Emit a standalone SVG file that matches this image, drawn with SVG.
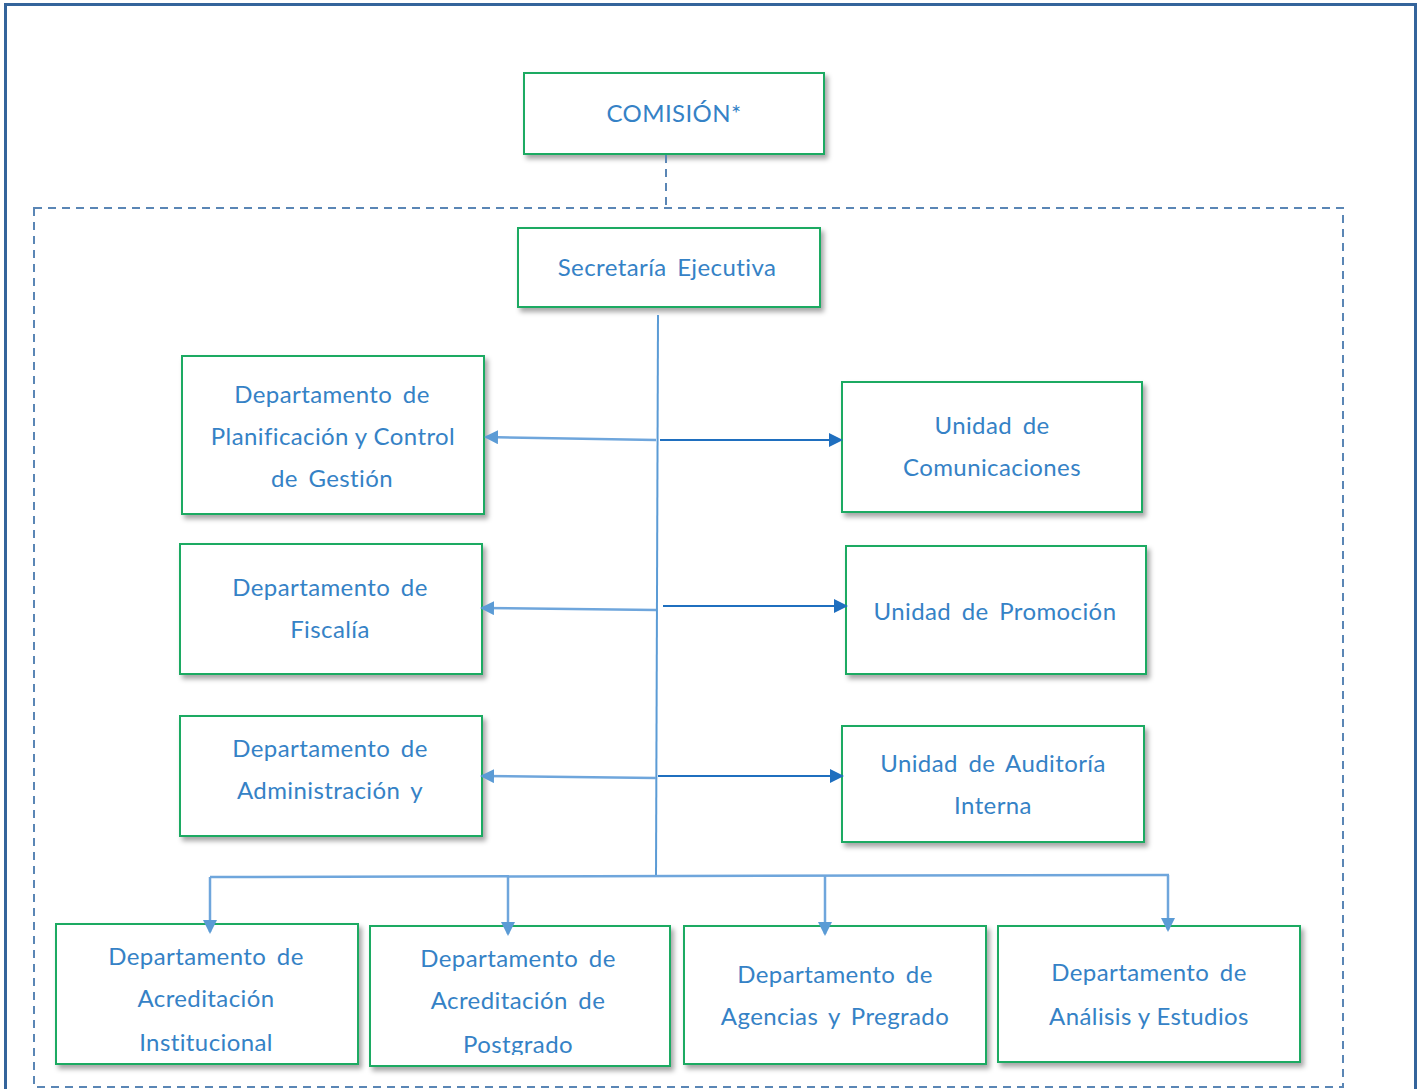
<svg xmlns="http://www.w3.org/2000/svg" width="1420" height="1089" viewBox="0 0 1420 1089">
<defs>
<style>
.box{fill:#fff;stroke:#1faa62;stroke-width:2;filter:url(#sh)}
.t{font-family:Lato,"Open Sans","Liberation Sans",sans-serif;font-size:24px;fill:#3582c6;text-anchor:middle;letter-spacing:0.4px;word-spacing:4px}
.n{word-spacing:0px}
.trunk{stroke:#5b9bd5;stroke-width:2;fill:none}
.lt{stroke:#6fa6dc;stroke-width:2.5;fill:none}
.dk{stroke:#1f6fbf;stroke-width:2;fill:none}
.dash{stroke:#5a86b5;stroke-width:2;fill:none;stroke-dasharray:8 6}
</style>
<filter id="sh" x="-10%" y="-10%" width="130%" height="140%">
<feDropShadow dx="3" dy="4" stdDeviation="2.5" flood-color="#000" flood-opacity="0.35"/>
</filter>
<marker id="ad" markerWidth="14" markerHeight="14" refX="12" refY="7" orient="auto" markerUnits="userSpaceOnUse" viewBox="0 0 14 14">
<path d="M0,0 L14,7 L0,14 z" fill="#1f6fbf"/>
</marker>
<marker id="alb" markerWidth="14" markerHeight="14" refX="12" refY="7" orient="auto" markerUnits="userSpaceOnUse" viewBox="0 0 14 14">
<path d="M0,0 L14,7 L0,14 z" fill="#5b9bd5"/>
</marker>
<clipPath id="cp"><rect x="371" y="927" width="298" height="128"/></clipPath>
</defs>
<rect x="0" y="0" width="1420" height="1089" fill="#fff"/>
<rect x="5.5" y="4.5" width="1410" height="1100" fill="none" stroke="#34649b" stroke-width="3"/>
<rect x="34" y="208" width="1309" height="879" class="dash"/>

<g id="comision"><rect x="524" y="73" width="300" height="81" class="box"/><text class="t" x="674" y="122">COMISIÓN*</text></g>
<g id="secretaria"><rect x="518" y="228" width="302" height="79" class="box"/><text class="t" x="667" y="276">Secretaría Ejecutiva</text></g>
<g id="planificacion"><rect x="182" y="356" width="302" height="158" class="box"/><text class="t" x="332" y="403">Departamento de</text><text class="t n" x="333" y="445">Planificación y Control</text><text class="t" x="332" y="487">de Gestión</text></g>
<g id="comunicaciones"><rect x="842" y="382" width="300" height="130" class="box"/><text class="t" x="992" y="434">Unidad de</text><text class="t" x="992" y="476">Comunicaciones</text></g>
<g id="fiscalia"><rect x="180" y="544" width="302" height="130" class="box"/><text class="t" x="330" y="596">Departamento de</text><text class="t" x="330" y="638">Fiscalía</text></g>
<g id="promocion"><rect x="846" y="546" width="300" height="128" class="box"/><text class="t" x="995" y="620">Unidad de Promoción</text></g>
<g id="administracion"><rect x="180" y="716" width="302" height="120" class="box"/><text class="t" x="330" y="757">Departamento de</text><text class="t" x="330" y="799">Administración y</text></g>
<g id="auditoria"><rect x="842" y="726" width="302" height="116" class="box"/><text class="t" x="993" y="772">Unidad de Auditoría</text><text class="t" x="993" y="814">Interna</text></g>
<g id="acred-institucional"><rect x="56" y="924" width="302" height="140" class="box"/><text class="t" x="206" y="965">Departamento de</text><text class="t" x="206" y="1007">Acreditación</text><text class="t" x="206" y="1051">Institucional</text></g>
<g id="acred-postgrado"><rect x="370" y="926" width="300" height="140" class="box"/><g clip-path="url(#cp)"><text class="t" x="518" y="967">Departamento de</text><text class="t" x="518" y="1009">Acreditación de</text><text class="t" x="518" y="1053">Postgrado</text></g></g>
<g id="agencias"><rect x="684" y="926" width="302" height="138" class="box"/><text class="t" x="835" y="983">Departamento de</text><text class="t" x="835" y="1025">Agencias y Pregrado</text></g>
<g id="analisis"><rect x="998" y="926" width="302" height="136" class="box"/><text class="t" x="1149" y="981">Departamento de</text><text class="t n" x="1149" y="1025">Análisis y Estudios</text></g>

<g id="connectors">
<line x1="666" y1="155" x2="666" y2="208" class="dash"/>
<line x1="658" y1="315" x2="656" y2="876" class="trunk"/>
<line x1="656" y1="440" x2="486" y2="437" class="lt" marker-end="url(#alb)"/>
<line x1="660" y1="440" x2="841" y2="440" class="dk" marker-end="url(#ad)"/>
<line x1="656" y1="610" x2="482" y2="608" class="lt" marker-end="url(#alb)"/>
<line x1="663" y1="606" x2="846" y2="606" class="dk" marker-end="url(#ad)"/>
<line x1="656" y1="778" x2="482" y2="776" class="lt" marker-end="url(#alb)"/>
<line x1="658" y1="776" x2="842" y2="776" class="dk" marker-end="url(#ad)"/>
<line x1="210" y1="877" x2="1169" y2="875" class="lt"/>
<line x1="210" y1="877" x2="210" y2="932" class="lt" marker-end="url(#alb)"/>
<line x1="508" y1="876" x2="508" y2="934" class="lt" marker-end="url(#alb)"/>
<line x1="825" y1="876" x2="825" y2="934" class="lt" marker-end="url(#alb)"/>
<line x1="1168" y1="875" x2="1168" y2="930" class="lt" marker-end="url(#alb)"/>
</g>
</svg>
